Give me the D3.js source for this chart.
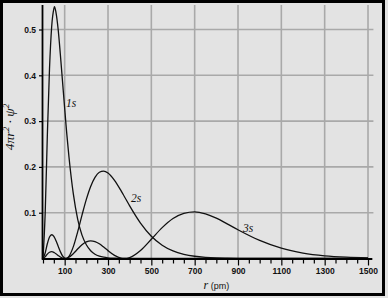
<!DOCTYPE html>
<html>
<head>
<meta charset="utf-8">
<script src="https://cdn.jsdelivr.net/npm/d3@7"></script>
<style>
  body { margin: 0; background: #e3e3e3; }
  svg { display: block; }
</style>
</head>
<body>
<svg id="chart" width="388" height="298"></svg>
<script>
// radius in pm, shared by the three curves
const rPm = [0, 10, 20, 30, 40, 50, 53, 60, 70, 80, 90, 100, 106, 110, 120, 140, 160, 180, 200, 220,
  240, 260, 280, 300, 330, 360, 376, 400, 450, 500, 550, 600, 650, 700, 750, 800, 850, 900, 1000, 1100,
  1200, 1300, 1400, 1500];

const p1s = [0, 0.098, 0.268, 0.414, 0.506, 0.545, 0.550, 0.537, 0.500, 0.446, 0.387, 0.328, 0.293, 0.271, 0.221, 0.141, 0.086, 0.051, 0.030, 0.017,
  0.0094, 0.0052, 0.0028, 0.0015, 0.0006, 0.0002, 0.0001, 0, 0, 0, 0, 0, 0, 0, 0, 0, 0, 0, 0, 0,
  0, 0, 0, 0];

const p2s = [0, 0.0121, 0.0322, 0.0468, 0.0519, 0.0483, 0.0459, 0.0388, 0.0267, 0.0150, 0.0059, 0.0008, 0, 0.0004, 0.0048, 0.0259, 0.0583, 0.0948, 0.1292, 0.1574,
  0.1773, 0.1882, 0.1909, 0.1866, 0.1707, 0.1481, 0.1349, 0.1150, 0.0774, 0.0487, 0.0291, 0.0166, 0.0092, 0.0049, 0.0026, 0.0013, 0.0007, 0.0003, 0.0001, 0,
  0, 0, 0, 0];

const p3s = [0, 0.0036, 0.0095, 0.0136, 0.0148, 0.0134, 0.0126, 0.0103, 0.0066, 0.0032, 0.0009, 0, 0.0002, 0.0007, 0.0029, 0.0107, 0.0207, 0.0300, 0.0363, 0.0387,
  0.0370, 0.0321, 0.0250, 0.0172, 0.0069, 0.0008, 0, 0.0021, 0.0175, 0.0421, 0.0674, 0.0873, 0.0987, 0.1020, 0.0975, 0.0880, 0.0755, 0.0627, 0.0394, 0.0224,
  0.0119, 0.0059, 0.0028, 0.0013];

const xTicks = d3.range(0, 1501, 50);
const xTickLabels = [100, 300, 500, 700, 900, 1100, 1300, 1500];
const yTickLabels = [0.1, 0.2, 0.3, 0.4, 0.5];

// curve labels, placed in data units
const seriesNames = ["1s", "2s", "3s"];
const labelR = [106, 406, 923];
const labelP = [0.331, 0.124, 0.0585];

const width = 388;
const height = 298;
const margins = { left: 43, right: 20, top: 5, bottom: 39.5 };

const svg = d3.select("#chart");

const x = d3.scaleLinear()
  .domain([0, 1500])
  .range([margins.left, 368]);

const y = d3.scaleLinear()
  .domain([0, 0.5])
  .range([height - margins.bottom, 29.5]);

const yTop = y.invert(margins.top);

svg.append("rect")
  .attr("width", width)
  .attr("height", height)
  .attr("fill", "#e3e3e3");

// grid
const grid = svg.append("g").attr("stroke", "#a9a9a9").attr("stroke-width", 1.6);
grid.selectAll("line.v")
  .data(xTickLabels)
  .join("line")
  .attr("class", "v")
  .attr("x1", (d) => x(d))
  .attr("x2", (d) => x(d))
  .attr("y1", y(yTop))
  .attr("y2", y(0));
grid.selectAll("line.h")
  .data(yTickLabels)
  .join("line")
  .attr("class", "h")
  .attr("x1", x(0))
  .attr("x2", x(1525))
  .attr("y1", (d) => y(d))
  .attr("y2", (d) => y(d));

// curves
const line = d3.line()
  .x((d) => x(d[0]))
  .y((d) => y(d[1]))
  .curve(d3.curveMonotoneX);

[p1s, p2s, p3s].forEach((vals) => {
  svg.append("path")
    .datum(rPm.map((r, i) => [r, vals[i]]))
    .attr("fill", "none")
    .attr("stroke", "#111")
    .attr("stroke-width", 1.3)
    .attr("d", line);
});

// x axis
const xAxisNode = svg.append("g")
  .attr("transform", `translate(0, ${y(0)})`)
  .call(
    d3.axisBottom(x)
      .tickValues(xTicks)
      .tickSize(5)
      .tickSizeOuter(0)
      .tickFormat((d) => (xTickLabels.includes(d) ? d : ""))
  );
xAxisNode.select(".domain")
  .attr("d", `M${x(-6)},0.5H${x(1520)}`)
  .attr("stroke", "#000")
  .attr("stroke-width", 2.2);
xAxisNode.selectAll(".tick line")
  .attr("stroke", "#000")
  .attr("stroke-width", 1.2)
  .attr("y2", (d) => (xTickLabels.includes(d) ? 7 : 5));
xAxisNode.selectAll(".tick text")
  .attr("y", 9)
  .attr("fill", "#111")
  .attr("font-family", "Liberation Sans, Arial, sans-serif")
  .attr("font-weight", "bold")
  .attr("font-size", "8.5px");

// y axis
const yAxisNode = svg.append("g")
  .attr("transform", `translate(${x(0)}, 0)`)
  .call(
    d3.axisLeft(y)
      .tickValues(yTickLabels)
      .tickSize(4)
      .tickPadding(3)
      .tickSizeOuter(0)
      .tickFormat(d3.format(".1f"))
  );
yAxisNode.select(".domain")
  .attr("d", `M-0.5,${y(yTop)}V${y(0)}`)
  .attr("stroke", "#000")
  .attr("stroke-width", 1.8);
yAxisNode.selectAll(".tick line").attr("stroke", "#000").attr("stroke-width", 1.2);
yAxisNode.selectAll(".tick text")
  .attr("fill", "#111")
  .attr("font-family", "Liberation Sans, Arial, sans-serif")
  .attr("font-weight", "bold")
  .attr("font-size", "8.5px");

// curve labels
svg.append("g")
  .selectAll("text")
  .data(seriesNames)
  .join("text")
  .attr("x", (d, i) => x(labelR[i]))
  .attr("y", (d, i) => y(labelP[i]))
  .attr("font-family", "Liberation Serif, Times New Roman, serif")
  .attr("font-style", "italic")
  .attr("font-size", "11.5px")
  .attr("fill", "#111")
  .text((d) => d);

// x axis title
const xTitle = svg.append("text")
  .attr("x", x(800))
  .attr("y", 289)
  .attr("text-anchor", "middle")
  .attr("fill", "#111");
xTitle.append("tspan")
  .attr("font-family", "Liberation Serif, serif")
  .attr("font-style", "italic")
  .attr("font-size", "12px")
  .text("r");
xTitle.append("tspan")
  .attr("font-family", "Liberation Sans, Arial, sans-serif")
  .attr("font-size", "9px")
  .text(" (pm)");

// y axis title
const yTitle = svg.append("text")
  .attr("transform", "translate(14, 127) rotate(-90)")
  .attr("text-anchor", "middle")
  .attr("font-family", "Liberation Serif, serif")
  .attr("font-style", "italic")
  .attr("font-size", "13.5px")
  .attr("fill", "#111");
yTitle.append("tspan").text("4πr");
yTitle.append("tspan").attr("dy", -5).attr("font-size", "9px").text("2");
yTitle.append("tspan").attr("dy", 5).text(" · ψ");
yTitle.append("tspan").attr("dy", -5).attr("font-size", "9px").text("2");

// frame
svg.append("rect")
  .attr("x", 1.5)
  .attr("y", 1.5)
  .attr("width", 382)
  .attr("height", 293)
  .attr("fill", "none")
  .attr("stroke", "#000")
  .attr("stroke-width", 3);
</script>
</body>
</html>
